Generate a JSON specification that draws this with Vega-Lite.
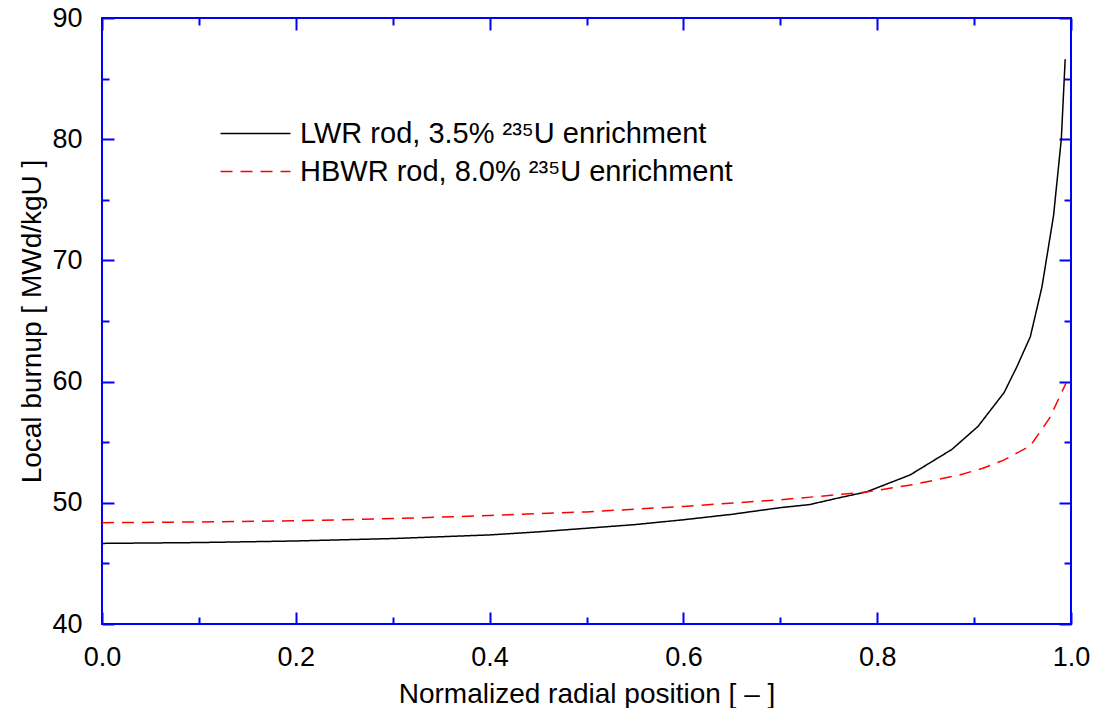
{
  "$schema": "https://vega.github.io/schema/vega-lite/v6.json",
  "autosize": {"type": "none"},
  "width": 969,
  "height": 606,
  "padding": {"left": 102, "top": 18, "right": 28, "bottom": 84},
  "background": "white",
  "config": {
    "font": "Liberation Sans",
    "view": {"stroke": "#0000ff", "strokeWidth": 2},
    "axis": {
      "domain": false,
      "grid": false,
      "tickColor": "#0000ff",
      "tickWidth": 2,
      "labelFont": "Liberation Sans",
      "labelFontSize": 27,
      "labelColor": "black",
      "labelFlush": false,
      "labelOverlap": false,
      "titleFont": "Liberation Sans",
      "titleFontSize": 28,
      "titleFontWeight": "normal",
      "titleColor": "black"
    },
    "legend": {
      "labelFont": "Liberation Sans",
      "labelFontSize": 29,
      "labelColor": "black",
      "labelLimit": 0
    }
  },
  "datasets": {
    "burnup": [
      {"r": 0.0, "bu": 46.65, "rod": "LWR"},
      {"r": 0.1, "bu": 46.72, "rod": "LWR"},
      {"r": 0.2, "bu": 46.85, "rod": "LWR"},
      {"r": 0.3, "bu": 47.05, "rod": "LWR"},
      {"r": 0.4, "bu": 47.35, "rod": "LWR"},
      {"r": 0.45, "bu": 47.6, "rod": "LWR"},
      {"r": 0.5, "bu": 47.9, "rod": "LWR"},
      {"r": 0.55, "bu": 48.2, "rod": "LWR"},
      {"r": 0.6, "bu": 48.6, "rod": "LWR"},
      {"r": 0.65, "bu": 49.05, "rod": "LWR"},
      {"r": 0.7, "bu": 49.6, "rod": "LWR"},
      {"r": 0.73, "bu": 49.85, "rod": "LWR"},
      {"r": 0.76, "bu": 50.4, "rod": "LWR"},
      {"r": 0.789, "bu": 50.9, "rod": "LWR"},
      {"r": 0.834, "bu": 52.3, "rod": "LWR"},
      {"r": 0.877, "bu": 54.4, "rod": "LWR"},
      {"r": 0.904, "bu": 56.3, "rod": "LWR"},
      {"r": 0.931, "bu": 59.1, "rod": "LWR"},
      {"r": 0.944, "bu": 61.2, "rod": "LWR"},
      {"r": 0.958, "bu": 63.7, "rod": "LWR"},
      {"r": 0.97, "bu": 67.8, "rod": "LWR"},
      {"r": 0.982, "bu": 73.7, "rod": "LWR"},
      {"r": 0.99, "bu": 80.0, "rod": "LWR"},
      {"r": 0.994, "bu": 86.6, "rod": "LWR"},
      {"r": 0.0, "bu": 48.36, "rod": "HBWR"},
      {"r": 0.1, "bu": 48.42, "rod": "HBWR"},
      {"r": 0.2, "bu": 48.52, "rod": "HBWR"},
      {"r": 0.3, "bu": 48.7, "rod": "HBWR"},
      {"r": 0.4, "bu": 48.95, "rod": "HBWR"},
      {"r": 0.5, "bu": 49.25, "rod": "HBWR"},
      {"r": 0.6, "bu": 49.7, "rod": "HBWR"},
      {"r": 0.7, "bu": 50.25, "rod": "HBWR"},
      {"r": 0.75, "bu": 50.6, "rod": "HBWR"},
      {"r": 0.789, "bu": 50.9, "rod": "HBWR"},
      {"r": 0.837, "bu": 51.5, "rod": "HBWR"},
      {"r": 0.885, "bu": 52.3, "rod": "HBWR"},
      {"r": 0.909, "bu": 52.85, "rod": "HBWR"},
      {"r": 0.93, "bu": 53.5, "rod": "HBWR"},
      {"r": 0.958, "bu": 54.7, "rod": "HBWR"},
      {"r": 0.978, "bu": 57.0, "rod": "HBWR"},
      {"r": 0.995, "bu": 59.9, "rod": "HBWR"}
    ]
  },
  "data": {"name": "burnup"},
  "resolve": {"axis": {"x": "independent", "y": "independent"}},
  "layer": [
    {
      "mark": {"type": "line", "strokeWidth": 1.5},
      "encoding": {
        "x": {
          "field": "r", "type": "quantitative",
          "scale": {"domain": [0, 1], "nice": false, "zero": false},
          "axis": {
            "orient": "bottom",
            "title": "Normalized radial position [ – ]",
            "values": [0, 0.2, 0.4, 0.6, 0.8, 1.0],
            "format": ".1f",
            "tickSize": -12,
            "labelPadding": 32,
            "titleBaseline": "alphabetic",
            "titleY": 78
          }
        },
        "y": {
          "field": "bu", "type": "quantitative",
          "scale": {"domain": [40, 90], "nice": false, "zero": false},
          "axis": {
            "orient": "left",
            "title": "Local burnup [ MWd/kgU ]",
            "values": [40, 50, 60, 70, 80, 90],
            "tickSize": -12,
            "labelPadding": 32,
            "titleBaseline": "alphabetic",
            "titleX": -62
          }
        },
        "color": {
          "field": "rod", "type": "nominal",
          "scale": {"domain": ["LWR", "HBWR"], "range": ["#000000", "#ff0000"]},
          "legend": {
            "orient": "none",
            "legendX": 139,
            "legendY": 101,
            "title": null,
            "symbolType": "M-4,0H4",
            "symbolSize": 306,
            "symbolStrokeWidth": 1.5,
            "labelOffset": 30,
            "rowPadding": 8,
            "labelExpr": "datum.value == 'LWR' ? 'LWR rod, 3.5% ²³⁵U enrichment' : 'HBWR rod, 8.0% ²³⁵U enrichment'"
          }
        },
        "strokeDash": {
          "field": "rod", "type": "nominal",
          "scale": {"domain": ["LWR", "HBWR"], "range": [[1, 0], [12, 8]]},
          "legend": {
            "orient": "none",
            "legendX": 139,
            "legendY": 101,
            "title": null,
            "symbolType": "M-4,0H4",
            "symbolSize": 306,
            "symbolStrokeWidth": 1.5,
            "labelOffset": 30,
            "rowPadding": 8,
            "labelExpr": "datum.value == 'LWR' ? 'LWR rod, 3.5% ²³⁵U enrichment' : 'HBWR rod, 8.0% ²³⁵U enrichment'"
          }
        }
      }
    },
    {
      "mark": {"type": "line", "strokeOpacity": 0},
      "encoding": {
        "detail": {"field": "rod"},
        "x": {
          "field": "r", "type": "quantitative",
          "axis": {"orient": "top", "title": null, "labels": false, "values": [0, 0.2, 0.4, 0.6, 0.8, 1.0], "tickSize": -12}
        },
        "y": {
          "field": "bu", "type": "quantitative",
          "axis": {"orient": "right", "title": null, "labels": false, "values": [40, 50, 60, 70, 80, 90], "tickSize": -12}
        }
      }
    },
    {
      "mark": {"type": "line", "strokeOpacity": 0},
      "encoding": {
        "detail": {"field": "rod"},
        "x": {
          "field": "r", "type": "quantitative",
          "axis": {"orient": "bottom", "title": null, "labels": false, "values": [0.1, 0.3, 0.5, 0.7, 0.9], "tickSize": -7}
        },
        "y": {
          "field": "bu", "type": "quantitative",
          "axis": {"orient": "left", "title": null, "labels": false, "values": [45, 55, 65, 75, 85], "tickSize": -7}
        }
      }
    },
    {
      "mark": {"type": "line", "strokeOpacity": 0},
      "encoding": {
        "detail": {"field": "rod"},
        "x": {
          "field": "r", "type": "quantitative",
          "axis": {"orient": "top", "title": null, "labels": false, "values": [0.1, 0.3, 0.5, 0.7, 0.9], "tickSize": -7}
        },
        "y": {
          "field": "bu", "type": "quantitative",
          "axis": {"orient": "right", "title": null, "labels": false, "values": [45, 55, 65, 75, 85], "tickSize": -7}
        }
      }
    }
  ]
}
